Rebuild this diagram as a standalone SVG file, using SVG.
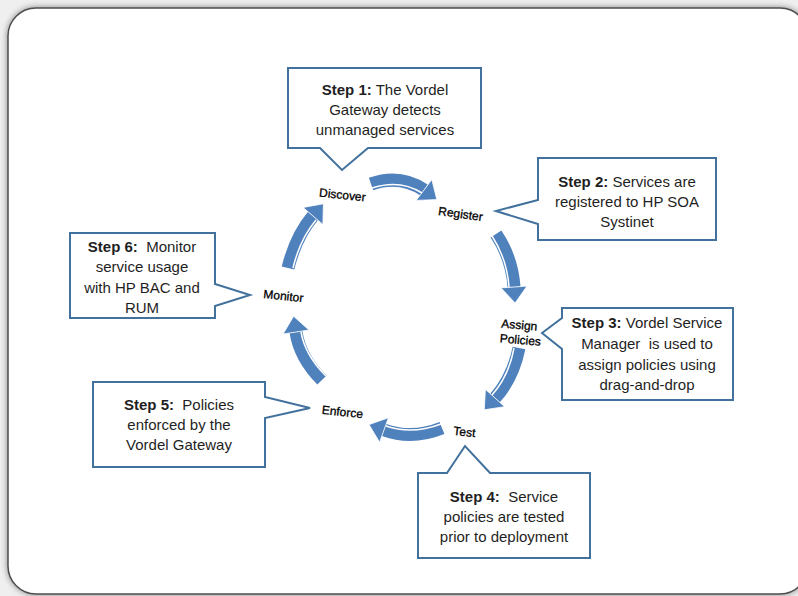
<svg xmlns="http://www.w3.org/2000/svg" width="798" height="596" viewBox="0 0 798 596">
<defs>
<filter id="sh" x="-5%" y="-5%" width="110%" height="110%">
<feGaussianBlur in="SourceAlpha" stdDeviation="3"/>
<feOffset dx="0" dy="0"/>
<feComponentTransfer><feFuncA type="linear" slope="0.45"/></feComponentTransfer>
<feMerge><feMergeNode/><feMergeNode in="SourceGraphic"/></feMerge>
</filter>
<style>
.box{fill:#ffffff;stroke:#41719c;stroke-width:2;stroke-linejoin:miter}
.bt{font-family:"Liberation Sans",Arial,sans-serif;font-size:15px;fill:#1f1f1f;text-anchor:middle}
.b{font-weight:bold}
.lbl{font-family:"Liberation Sans",Arial,sans-serif;font-size:12px;fill:#000000;stroke:#000000;stroke-width:0.3;text-anchor:middle}
.shaft{fill:none;stroke:#4f81bd;stroke-width:13;stroke-linecap:butt}
.hl{fill:none;stroke:#ffffff;stroke-width:1.5}
.head{fill:#4f81bd;stroke:#ffffff;stroke-width:0.8;stroke-linejoin:round}
</style>
</defs>
<rect x="0" y="0" width="798" height="596" fill="#efefef"/>
<rect x="8" y="8" width="800" height="586" rx="28" ry="28" fill="#ffffff" stroke="#4d4d4d" stroke-width="1.5" filter="url(#sh)"/>

<g id="connectors">
<g id="arrow-discover-register">
<path class="shaft" d="M371,184 Q400,174 424,190"/>
<path class="hl" d="M372,188 Q400,179 422,193"/>
<polygon class="head" points="416.2,200.4 431.8,179.6 436.8,199.6"/>
</g>
<g id="arrow-register-assign">
<path class="shaft" d="M496,234 Q512,258 514,287"/>
<path class="hl" d="M492,236 Q507,259 509,287"/>
<polygon class="head" points="501,287.9 527,286.1 515.1,303"/>
</g>
<g id="arrow-assign-test">
<path class="shaft" d="M519,348 Q513,378 495,398"/>
<path class="hl" d="M514,348 Q509,376 492,395"/>
<polygon class="head" points="504.6,406.7 485.4,389.3 484.3,409.8"/>
</g>
<g id="arrow-test-enforce">
<path class="shaft" d="M442,428 Q412,440 384,430"/>
<path class="hl" d="M441,424 Q412,435 386,426"/>
<polygon class="head" points="388.4,417.8 379.6,442.2 369,424.6"/>
</g>
<g id="arrow-enforce-monitor">
<path class="shaft" d="M322,380 Q300,358 296,332"/>
<path class="hl" d="M326,376 Q305,355 301,332"/>
<polygon class="head" points="308.9,330 283.1,334 293.6,316.2"/>
</g>
<g id="arrow-monitor-discover">
<path class="shaft" d="M288,268 Q296,236 313,216"/>
<path class="hl" d="M293,268 Q300,239 316,220"/>
<polygon class="head" points="322.9,224.5 303.1,207.5 323.4,203.8"/>
</g>
</g>

<g id="discover"><text class="lbl" transform="translate(342,199) rotate(6)">Discover</text></g>
<g id="register"><text class="lbl" transform="translate(460,218) rotate(8)">Register</text></g>
<g id="assign-policies"><text class="lbl" transform="translate(519,329) rotate(5)">Assign</text><text class="lbl" transform="translate(520,344) rotate(5)">Policies</text></g>
<g id="test"><text class="lbl" transform="translate(464,436) rotate(6)">Test</text></g>
<g id="enforce"><text class="lbl" transform="translate(342,416) rotate(6)">Enforce</text></g>
<g id="monitor"><text class="lbl" transform="translate(283,300) rotate(6)">Monitor</text></g>

<g id="step1">
<path class="box" d="M288,68 H481 V148 H368 L342,170 L320,148 H288 Z"/>
<text class="bt" x="385" y="95"><tspan class="b">Step 1:</tspan> The Vordel</text>
<text class="bt" x="385" y="115">Gateway detects</text>
<text class="bt" x="385" y="135">unmanaged services</text>
</g>
<g id="step2">
<path class="box" d="M538,158 H716 V240 H538 V224 L496,211 L538,200 Z"/>
<text class="bt" x="627" y="187"><tspan class="b">Step 2:</tspan> Services are</text>
<text class="bt" x="627" y="207">registered to HP SOA</text>
<text class="bt" x="627" y="227">Systinet</text>
</g>
<g id="step3">
<path class="box" d="M562,308 H733 V400 H562 V349 L542,333 L562,318 Z"/>
<text class="bt" x="647" y="328"><tspan class="b">Step 3:</tspan> Vordel Service</text>
<text class="bt" x="647" y="349" xml:space="preserve">Manager  is used to</text>
<text class="bt" x="647" y="370">assign policies using</text>
<text class="bt" x="647" y="390">drag-and-drop</text>
</g>
<g id="step4">
<path class="box" d="M418,473 H447 L465,446 L490,473 H590 V558 H418 Z"/>
<text class="bt" x="504" y="502" xml:space="preserve"><tspan class="b">Step 4:</tspan>  Service</text>
<text class="bt" x="504" y="522">policies are tested</text>
<text class="bt" x="504" y="542">prior to deployment</text>
</g>
<g id="step5">
<path class="box" d="M93,382 H265 V397 L310,408 L265,418 V467 H93 Z"/>
<text class="bt" x="179" y="410" xml:space="preserve"><tspan class="b">Step 5:</tspan>  Policies</text>
<text class="bt" x="179" y="430">enforced by the</text>
<text class="bt" x="179" y="450">Vordel Gateway</text>
</g>
<g id="step6">
<path class="box" d="M70,233 H215 V284 L250,295 L215,306 V318 H70 Z"/>
<text class="bt" x="142" y="252" xml:space="preserve"><tspan class="b">Step 6:</tspan>  Monitor</text>
<text class="bt" x="142" y="272">service usage</text>
<text class="bt" x="142" y="293">with HP BAC and</text>
<text class="bt" x="142" y="313">RUM</text>
</g>
</svg>
